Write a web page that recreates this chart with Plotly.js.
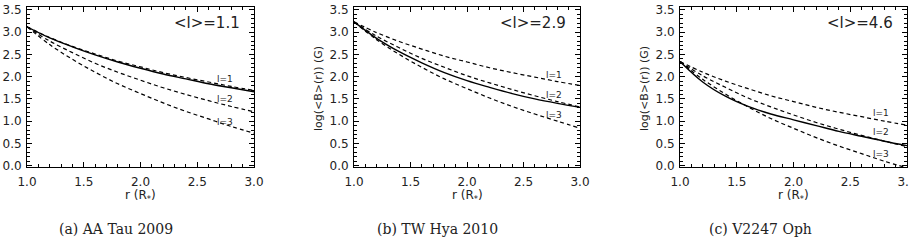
<!DOCTYPE html>
<html>
<head>
<meta charset="utf-8">
<script src="https://cdn.plot.ly/plotly-3.0.1.min.js"></script>
<style>
  html, body { margin: 0; padding: 0; background: #fff; }
  #chart { width: 909px; height: 240px; }
</style>
</head>
<body>
<div id="chart"></div>
<script>
// Radius in stellar radii, shared by all three panels
const radius = [1.0, 1.2, 1.4, 1.6, 1.8, 2.0, 2.2, 2.4, 2.6, 2.8, 3.0];

// (a) AA Tau 2009, <l>=1.1
const aaTauTotal = [3.12, 2.87, 2.67, 2.49, 2.33, 2.19, 2.06, 1.95, 1.84, 1.75, 1.66];
const aaTauL1    = [3.12, 2.88, 2.68, 2.51, 2.35, 2.22, 2.09, 1.98, 1.88, 1.78, 1.69];
const aaTauL2    = [3.12, 2.80, 2.54, 2.30, 2.10, 1.92, 1.75, 1.60, 1.46, 1.33, 1.21];
const aaTauL3    = [3.12, 2.72, 2.39, 2.10, 1.84, 1.62, 1.41, 1.22, 1.05, 0.88, 0.73];

// (b) TW Hya 2010, <l>=2.9
const twHyaTotal = [3.23, 2.86, 2.56, 2.31, 2.09, 1.91, 1.76, 1.62, 1.50, 1.40, 1.31];
const twHyaL1    = [3.23, 2.99, 2.79, 2.62, 2.46, 2.33, 2.20, 2.09, 1.99, 1.89, 1.80];
const twHyaL2    = [3.23, 2.91, 2.65, 2.41, 2.21, 2.02, 1.86, 1.71, 1.57, 1.44, 1.32];
const twHyaL3    = [3.23, 2.83, 2.50, 2.21, 1.95, 1.73, 1.52, 1.33, 1.16, 1.00, 0.84];

// (c) V2247 Oph, <l>=4.6
const v2247Total = [2.34, 1.88, 1.56, 1.33, 1.16, 1.03, 0.90, 0.77, 0.66, 0.55, 0.45];
const v2247L1    = [2.34, 2.10, 1.90, 1.73, 1.57, 1.44, 1.31, 1.20, 1.10, 1.00, 0.91];
const v2247L2    = [2.34, 2.02, 1.76, 1.52, 1.32, 1.14, 0.97, 0.82, 0.68, 0.55, 0.43];
const v2247L3    = [2.34, 1.94, 1.61, 1.32, 1.06, 0.84, 0.63, 0.44, 0.27, 0.10, -0.05];

// Text
const meanL = ['<l>=1.1', '<l>=2.9', '<l>=4.6'];
const captions = ['(a) AA Tau 2009', '(b) TW Hya 2010', '(c) V2247 Oph'];
const curveNames = ['l=1', 'l=2', 'l=3'];
const yTitle = 'log(<B>(r)) (G)';
const xTitle = 'r (R<sub>*</sub>)';
const xTicks = [1.0, 1.5, 2.0, 2.5, 3.0];
const yTicks = [0.0, 0.5, 1.0, 1.5, 2.0, 2.5, 3.0, 3.5];

// Curve-label anchor points, in data units
const labelPos = [
  { x: [2.745, 2.745, 2.745], y: [1.94, 1.49, 0.98] },
  { x: [2.77, 2.77, 2.77],    y: [2.03, 1.58, 1.13] },
  { x: [2.77, 2.77, 2.77],    y: [1.19, 0.75, 0.26] }
];

const W = 909, H = 240;
const px = v => v / W;
const py = v => 1 - v / H;
const esc = s => s.replace(/</g, '&lt;').replace(/>/g, '&gt;');

const panels = [
  { total: aaTauTotal, l: [aaTauL1, aaTauL2, aaTauL3], left: 27,  right: 254 },
  { total: twHyaTotal, l: [twHyaL1, twHyaL2, twHyaL3], left: 354, right: 580 },
  { total: v2247Total, l: [v2247L1, v2247L2, v2247L3], left: 680, right: 907 }
];

const plotTop = 7, plotBottom = 167;
const sans = 'DejaVu Sans, sans-serif';
const tickFont = { family: sans, size: 12, color: '#222' };

const traces = [];
const layout = {
  width: W, height: H,
  margin: { l: 0, r: 0, t: 0, b: 0, pad: 0 },
  paper_bgcolor: '#fff', plot_bgcolor: '#fff',
  showlegend: false,
  annotations: []
};

panels.forEach((p, i) => {
  const sfx = i === 0 ? '' : String(i + 1);
  const xa = 'x' + sfx, ya = 'y' + sfx;

  p.l.forEach(vals => {
    traces.push({
      x: radius, y: vals, xaxis: xa, yaxis: ya, type: 'scatter', mode: 'lines',
      line: { color: '#000', width: 1.2, dash: '4px,3px', shape: 'spline' },
      hoverinfo: 'skip'
    });
  });
  traces.push({
    x: radius, y: p.total, xaxis: xa, yaxis: ya, type: 'scatter', mode: 'lines',
    line: { color: '#000', width: 1.4, shape: 'spline' },
    hoverinfo: 'skip'
  });

  const common = {
    ticks: 'inside', ticklen: 5, tickwidth: 1, tickcolor: '#000',
    showline: true, linecolor: '#000', linewidth: 1, mirror: 'allticks',
    showgrid: false, zeroline: false, tickfont: tickFont,
    tickformat: '.1f', fixedrange: true, ticklabeloverflow: 'allow'
  };

  layout['xaxis' + sfx] = Object.assign({}, common, {
    domain: [px(p.left), px(p.right)],
    anchor: ya,
    range: [1, 3],
    tickmode: 'array', tickvals: xTicks,
    ticklabelstandoff: 4,
    minor: { ticks: 'inside', dtick: 0.1, tick0: 1, ticklen: 3, tickcolor: '#000', showgrid: false }
  });
  layout['yaxis' + sfx] = Object.assign({}, common, {
    domain: [py(plotBottom), py(plotTop)],
    anchor: xa,
    range: [-0.03, 3.565],
    tickmode: 'array', tickvals: yTicks,
    ticklabelstandoff: 2,
    minor: { ticks: 'inside', dtick: 0.1, tick0: 0, ticklen: 3, tickcolor: '#000', showgrid: false }
  });

  // <l> value in the upper right corner
  layout.annotations.push({
    xref: 'paper', yref: 'paper', x: px(p.right - 12), y: py(23),
    xanchor: 'right', yanchor: 'middle', showarrow: false,
    text: esc(meanL[i]),
    font: { family: sans, size: 15, color: '#222' }
  });

  // l=1, l=2, l=3 curve labels
  curveNames.forEach((name, k) => {
    layout.annotations.push({
      xref: xa, yref: ya, x: labelPos[i].x[k], y: labelPos[i].y[k],
      xanchor: 'center', yanchor: 'middle', showarrow: false,
      text: name,
      font: { family: sans, size: 9, color: '#222' }
    });
  });

  // x axis title
  layout.annotations.push({
    xref: 'paper', yref: 'paper', x: px((p.left + p.right) / 2), y: py(196),
    xanchor: 'center', yanchor: 'middle', showarrow: false,
    text: xTitle,
    font: { family: sans, size: 12, color: '#222' }
  });

  // y axis title (panel a's falls off the left edge)
  if (i > 0) {
    layout.annotations.push({
      xref: 'paper', yref: 'paper', x: px(p.left - 36), y: py(89),
      xanchor: 'center', yanchor: 'middle', showarrow: false, textangle: -90,
      text: esc(yTitle),
      font: { family: sans, size: 11, color: '#222' }
    });
  }
});

// Sub-figure captions
const captionCenters = [116, 437, 760];
captions.forEach((c, i) => {
  layout.annotations.push({
    xref: 'paper', yref: 'paper', x: px(captionCenters[i]), y: py(229),
    xanchor: 'center', yanchor: 'middle', showarrow: false,
    text: c,
    font: { family: 'DejaVu Serif, serif', size: 14, color: '#222' }
  });
});

Plotly.newPlot('chart', traces, layout, { staticPlot: true, displayModeBar: false });
</script>
</body>
</html>
